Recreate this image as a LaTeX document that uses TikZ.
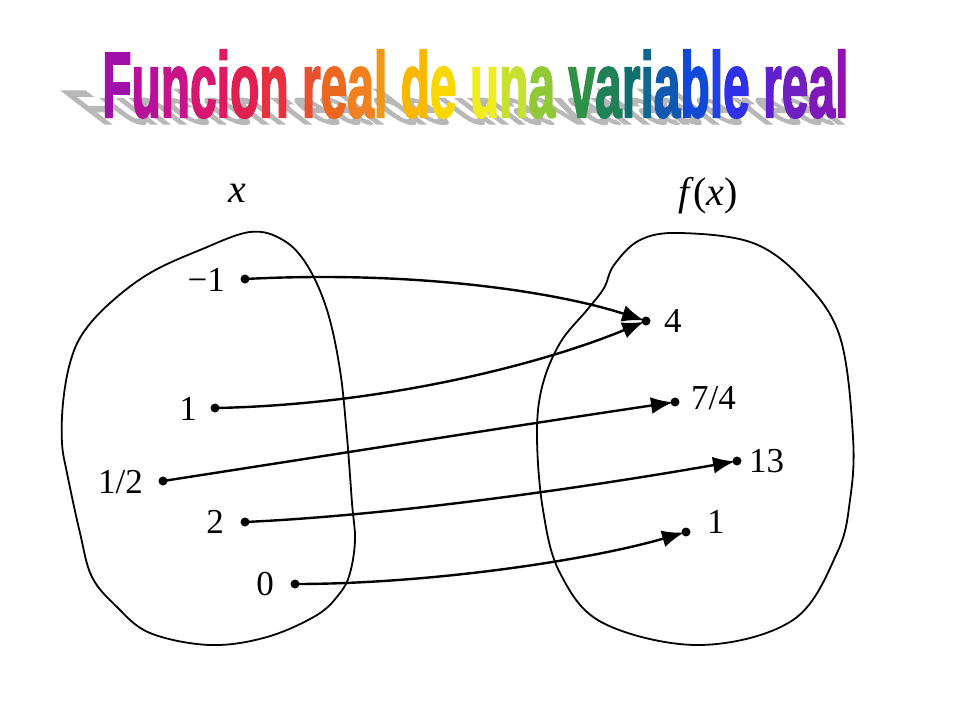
\documentclass[tikz,border=0pt]{standalone}
\usepackage{fontspec}
\setmainfont{Liberation Serif}
\newfontfamily\titlefont[FakeBold=2.5]{Liberation Sans Bold}
\usetikzlibrary{arrows.meta}
\newif\ifshadowmode
\newcommand\TL[2]{\ifshadowmode#2\else\textcolor[HTML]{#1}{#2}\fi}
\newcommand\mytitle{\TL{A010A8}{F}\TL{B81098}{u}\TL{C81488}{n}\TL{D81870}{c}\TL{E01860}{i}\TL{E02050}{o}\TL{E83040}{n} \TL{E85030}{r}\TL{EC6820}{e}\TL{F08020}{a}\TL{F09818}{l} \TL{F8B800}{d}\TL{F8D800}{e} \TL{F0EC20}{u}\TL{C8E030}{n}\TL{90C838}{a} \TL{309048}{v}\TL{208058}{a}\TL{107070}{r}\TL{106890}{i}\TL{1058B0}{a}\TL{1048D8}{b}\TL{2040E8}{l}\TL{3030E8}{e} \TL{6020D0}{r}\TL{7020C0}{e}\TL{8018B8}{a}\TL{9010B0}{l}}
\tikzset{
  blob/.style={draw=black, line width=1.8pt},
  dot/.style={circle, fill=black, inner sep=0pt, minimum size=9pt},
  lab/.style={font=\fontsize{35}{40}\selectfont, inner sep=0pt},
  axlab/.style={font=\fontsize{40}{46}\selectfont, inner sep=0pt, anchor=base},
  arr/.style={line width=2.4pt, -{Latex[length=22pt,width=17pt]}, shorten >=2pt},
}
\begin{document}
\begin{tikzpicture}[x=1pt, y=-1pt]
\useasboundingbox (0,0) rectangle (960,720);
% title shadow
\begin{scope}[shift={(101,124)}, xslant=-1.3, yscale=0.52, transform shape]
\node[anchor=base west, inner sep=0pt, text=black!28] (shadow) at (0,0) {\shadowmodetrue\resizebox{746pt}{67pt}{\titlefont\mytitle}};
\end{scope}
% title
\node[anchor=base west, inner sep=0pt] (title) at (102,117) {\resizebox{746pt}{67pt}{\titlefont\mytitle}};
% blobs
\draw[blob] plot[smooth cycle, tension=0.6] coordinates {
 (250,232) (283,240) (307,265) (327,310) (340,370) (347,437) (352,503) (355,540)
 (350,573) (340,593) (317,615) (267,637) (210,645) (150,633) (117,607) (92,577)
 (80,533) (67,473) (62,443) (63,403) (70,363) (83,333) (110,303) (150,273) (200,250)};
\draw[blob] plot[smooth cycle, tension=0.6] coordinates {
 (680,233) (753,243) (803,280) (840,337) (853,437) (850,500) (837,553) (793,620)
 (700,645) (603,623) (560,573) (543,510) (537,437) (542,387) (560,343) (587,310)
 (604,288) (614,265) (640,240)};
% axis labels
\node[axlab] (xl) at (237,202) {\textit{x}};
\node[axlab] (fl) at (708,205) {\textit{f}\kern-1pt(\textit{x})};
% source dots
\node[dot] (sm1) at (245,279) {};
\node[dot] (s1) at (215,408) {};
\node[dot] (sh) at (163,481) {};
\node[dot] (s2) at (245,522) {};
\node[dot] (s0) at (295,584) {};
% target dots
\node[dot] (t4) at (646,321) {};
\node[dot] (t74) at (675,402) {};
\node[dot] (t13) at (737,461) {};
\node[dot] (t1) at (686,532) {};
% labels
\node[lab, anchor=base east] (lm1) at (225,291) {−1};
\node[lab, anchor=base east] (l1) at (197,420) {1};
\node[lab, anchor=base east] (lh) at (143,493) {1/2};
\node[lab, anchor=base east] (l2) at (224,533) {2};
\node[lab, anchor=base east] (l0) at (274,595) {0};
\node[lab, anchor=base west] (r4) at (664,332) {4};
\node[lab, anchor=base west] (r74) at (691,409) {7/4};
\node[lab, anchor=base west] (r13) at (749,472) {13};
\node[lab, anchor=base west] (r1) at (707,533) {1};
% arrows
\draw[arr] (sm1.center) .. controls (420,270) and (560,293) .. (t4.center);
\draw[arr] (s1.center) .. controls (380,405) and (540,365) .. (t4.center);
\draw[arr] (sh.center) .. controls (350,452) and (520,425) .. (t74.center);
\draw[arr] (s2.center) .. controls (400,515) and (600,485) .. (t13.center);
\draw[arr] (s0.center) .. controls (430,584) and (590,560) .. (t1.center);
\end{tikzpicture}
\end{document}
